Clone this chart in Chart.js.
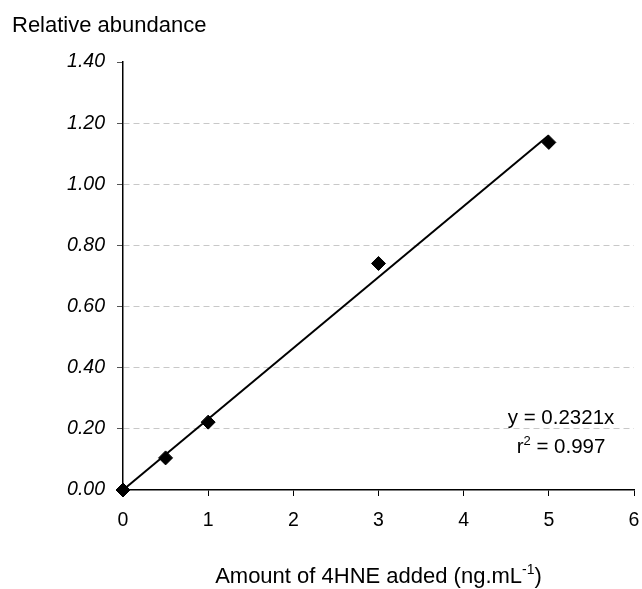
<!DOCTYPE html>
<html>
<head>
<meta charset="utf-8">
<script src="https://cdn.jsdelivr.net/npm/chart.js@4/dist/chart.umd.min.js"></script>
<style>
  html, body { margin: 0; padding: 0; background: #fff; }
  #wrap { width: 642px; height: 589px; }
</style>
</head>
<body>
<div id="wrap"><canvas id="chart" width="642" height="589"></canvas></div>
<script>
// measured points
const amountAdded = [0, 0.5, 1, 3, 5];
const relAbundance = [0.0, 0.105, 0.222, 0.741, 1.137];

// linear fit through origin, y = 0.2321x
const fitX = [0, 5];
const fitY = [0, 1.1605];

const xTicks = [0, 1, 2, 3, 4, 5, 6];
const yTicks = [0, 0.2, 0.4, 0.6, 0.8, 1.0, 1.2, 1.4];

const FONT = '"Liberation Sans", Arial, sans-serif';

// draws a line of text made of [text, isSuperscript] parts, centred on cx
function drawParts(c, parts, cx, y, size, supSize, raise) {
  let total = 0;
  const widths = parts.map(([t, sup]) => {
    c.font = (sup ? supSize : size) + 'px ' + FONT;
    const w = c.measureText(t).width;
    total += w;
    return w;
  });
  let x = cx - total / 2;
  c.textAlign = 'left';
  parts.forEach(([t, sup], i) => {
    c.font = (sup ? supSize : size) + 'px ' + FONT;
    c.fillText(t, x, sup ? y - raise : y);
    x += widths[i];
  });
}

const textPlugin = {
  id: 'texts',
  afterDraw(chart) {
    const c = chart.ctx;
    const xs = chart.scales.x;
    c.save();
    c.fillStyle = '#000';
    c.textBaseline = 'alphabetic';

    c.font = '22px ' + FONT;
    c.textAlign = 'left';
    c.fillText('Relative abundance', 12, 32);

    drawParts(c, [['Amount of 4HNE added (ng.mL', false], ['-1', true], [')', false]],
      (xs.left + xs.right) / 2, 583, 22, 14, 9);

    drawParts(c, [['y = 0.2321x', false]], 561, 424, 20.5, 13, 8);
    drawParts(c, [['r', false], ['2', true], [' = 0.997', false]], 561, 453, 20.5, 13, 8);
    c.restore();
  }
};

new Chart(document.getElementById('chart'), {
  type: 'scatter',
  data: {
    datasets: [
      {
        label: 'data',
        data: amountAdded.map((v, i) => ({ x: v, y: relAbundance[i] })),
        pointStyle: 'rectRot',
        pointRadius: 7,
        pointBackgroundColor: '#000',
        pointBorderColor: '#000',
        pointBorderWidth: 1,
        clip: false,
        order: 1
      },
      {
        label: 'fit',
        data: fitX.map((v, i) => ({ x: v, y: fitY[i] })),
        showLine: true,
        borderColor: '#000',
        borderWidth: 2,
        pointRadius: 0,
        clip: false,
        order: 2
      }
    ]
  },
  options: {
    responsive: false,
    animation: false,
    layout: { padding: { top: 62, right: 0, left: 0, bottom: 0 } },
    plugins: { legend: { display: false }, tooltip: { enabled: false } },
    scales: {
      x: {
        type: 'linear',
        min: 0,
        max: 6,
        afterFit(s) { s.height = 99; s.paddingLeft = 0; s.paddingRight = 6; },
        afterBuildTicks(s) { s.ticks = xTicks.map(v => ({ value: v })); },
        ticks: {
          color: '#000',
          font: { family: FONT, size: 19.5 },
          padding: 13
        },
        grid: {
          drawOnChartArea: false,
          tickLength: 6,
          tickColor: '#000'
        },
        border: { color: '#000', width: 1.5 }
      },
      y: {
        type: 'linear',
        min: 0,
        max: 1.4,
        afterFit(s) { s.width = 123; s.paddingTop = 0; s.paddingBottom = 0; },
        afterBuildTicks(s) { s.ticks = yTicks.map(v => ({ value: v })); },
        ticks: {
          color: '#000',
          font: { family: FONT, size: 19.5, style: 'italic' },
          padding: 12,
          callback: v => Number(v).toFixed(2)
        },
        grid: {
          color: ctx => {
            const v = ctx.tick ? ctx.tick.value : 0;
            return (v === 0 || Math.abs(v - 1.4) < 1e-6) ? 'rgba(0,0,0,0)' : '#c8c8c8';
          },
          lineWidth: 1,
          tickLength: 6,
          tickColor: '#555',
          tickBorderDash: []
        },
        border: { color: '#000', width: 1.5, dash: [6, 4] }
      }
    }
  },
  plugins: [textPlugin]
});
</script>
</body>
</html>
